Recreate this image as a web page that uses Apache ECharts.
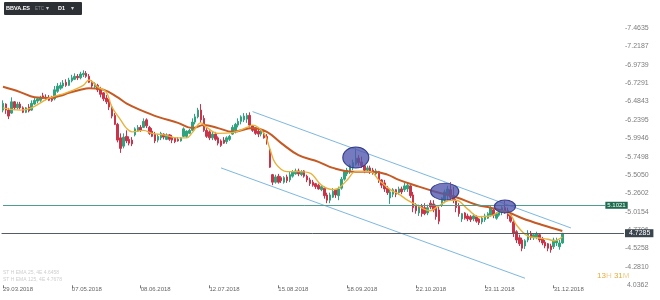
<!DOCTYPE html>
<html><head><meta charset="utf-8">
<script src="https://cdn.jsdelivr.net/npm/echarts@6/dist/echarts.min.js"></script>
<style>html,body{margin:0;padding:0;background:#fff}#c{width:660px;height:300px}</style>
</head><body><div id="c"></div>
<script>
// ---- data ----
const startDate = '29.03.2018';
const holidays = ['30.03.2018','02.04.2018','01.05.2018','25.12.2018','26.12.2018','01.01.2019'];
const categoryCount = 217;

const opens = [6.37,6.45,6.37,6.33,6.48,6.40,6.45,6.40,6.34,6.41,
6.37,6.45,6.49,6.50,6.56,6.54,6.53,6.52,6.52,6.62,
6.66,6.69,6.74,6.70,6.76,6.78,6.82,6.80,6.84,6.86,
6.82,6.74,6.68,6.70,6.65,6.60,6.53,6.49,6.41,6.30,
6.18,6.00,5.89,6.02,5.98,5.97,6.04,6.09,6.14,6.14,
6.24,6.14,6.09,6.05,5.97,6.00,6.05,5.98,6.04,6.01,
6.00,5.98,5.96,6.02,6.02,6.06,6.10,6.21,6.28,6.37,
6.26,6.10,6.08,6.00,6.05,6.00,5.96,5.97,5.95,5.98,
6.05,6.10,6.17,6.22,6.24,6.25,6.30,6.16,6.13,6.09,
6.05,6.06,6.02,5.84,5.51,5.41,5.49,5.47,5.41,5.48,
5.44,5.49,5.52,5.56,5.51,5.56,5.49,5.44,5.41,5.39,
5.37,5.31,5.33,5.24,5.17,5.21,5.31,5.23,5.33,5.45,
5.52,5.55,5.60,5.65,5.73,5.68,5.63,5.57,5.60,5.57,
5.52,5.55,5.44,5.40,5.33,5.20,5.25,5.31,5.27,5.32,
5.31,5.32,5.36,5.24,5.11,5.00,5.09,5.07,5.00,5.13,
5.12,5.08,5.04,5.11,5.17,5.24,5.31,5.23,5.16,5.09,
4.92,5.00,4.96,4.95,4.92,4.95,4.92,4.88,4.91,4.93,
4.97,5.04,4.93,4.97,5.01,5.07,5.03,4.97,4.88,4.75,
4.67,4.64,4.56,4.64,4.73,4.67,4.68,4.71,4.65,4.61,
4.59,4.56,4.55,4.60,4.55,4.60];

const closes = [6.46,6.37,6.29,6.48,6.40,6.45,6.40,6.34,6.40,6.36,
6.46,6.50,6.52,6.54,6.53,6.52,6.50,6.50,6.64,6.69,
6.70,6.73,6.70,6.77,6.80,6.82,6.80,6.85,6.86,6.82,
6.74,6.69,6.72,6.64,6.58,6.52,6.48,6.41,6.29,6.18,
5.97,5.86,6.01,5.96,5.93,5.92,6.12,6.14,6.10,6.22,
6.16,6.06,6.02,5.96,6.02,6.06,6.01,6.04,5.98,5.97,
5.95,5.96,6.00,6.12,6.09,6.10,6.21,6.28,6.37,6.24,
6.10,6.02,6.00,6.05,5.98,5.93,5.90,5.93,6.00,6.02,
6.14,6.18,6.22,6.28,6.29,6.30,6.17,6.10,6.06,6.05,
6.09,6.00,5.95,5.61,5.41,5.48,5.41,5.43,5.47,5.43,
5.51,5.55,5.56,5.52,5.55,5.49,5.44,5.39,5.37,5.35,
5.32,5.35,5.23,5.17,5.24,5.29,5.24,5.32,5.45,5.55,
5.57,5.63,5.67,5.73,5.67,5.63,5.57,5.60,5.55,5.53,
5.56,5.44,5.37,5.32,5.27,5.28,5.31,5.25,5.32,5.28,
5.36,5.37,5.23,5.07,5.03,5.08,4.99,4.99,5.07,5.08,
5.04,4.95,4.89,5.20,5.28,5.32,5.21,5.17,5.07,4.99,
4.99,4.93,4.92,4.91,4.96,4.89,4.87,4.93,4.96,4.99,
5.07,4.97,4.99,5.03,5.07,5.01,4.96,4.89,4.73,4.64,
4.59,4.53,4.63,4.73,4.67,4.71,4.72,4.64,4.60,4.56,
4.53,4.51,4.64,4.63,4.60,4.7285];

const lows = [6.34,6.32,6.25,6.32,6.37,6.38,6.38,6.33,6.33,6.34,
6.36,6.44,6.46,6.48,6.52,6.50,6.49,6.48,6.50,6.60,
6.64,6.66,6.68,6.69,6.74,6.77,6.77,6.78,6.81,6.80,
6.73,6.66,6.66,6.61,6.54,6.49,6.45,6.37,6.26,6.17,
5.94,5.80,5.86,5.93,5.90,5.89,6.02,6.08,6.08,6.13,
6.13,6.04,6.01,5.93,5.94,5.97,5.98,5.97,5.96,5.93,
5.93,5.95,5.95,6.01,6.00,6.05,6.09,6.18,6.26,6.20,
6.08,6.00,5.97,5.97,5.96,5.90,5.88,5.92,5.92,5.96,
6.04,6.06,6.14,6.18,6.21,6.20,6.14,6.08,6.04,6.01,
6.02,5.99,5.91,5.60,5.37,5.39,5.39,5.40,5.39,5.40,
5.41,5.47,5.51,5.49,5.49,5.47,5.41,5.36,5.35,5.32,
5.31,5.29,5.19,5.13,5.13,5.20,5.20,5.17,5.31,5.43,
5.49,5.52,5.57,5.63,5.63,5.60,5.53,5.55,5.52,5.51,
5.49,5.40,5.33,5.28,5.24,5.12,5.21,5.21,5.24,5.25,
5.28,5.28,5.20,5.01,4.99,4.96,4.95,4.97,4.97,5.05,
5.01,4.91,4.85,5.08,5.13,5.17,5.17,5.13,5.01,4.95,
4.88,4.91,4.89,4.88,4.89,4.87,4.84,4.85,4.88,4.92,
4.95,4.93,4.91,4.95,4.97,4.99,4.92,4.87,4.68,4.60,
4.56,4.49,4.52,4.61,4.64,4.64,4.65,4.61,4.57,4.53,
4.49,4.47,4.52,4.56,4.51,4.59];

const highs = [6.50,6.46,6.40,6.54,6.49,6.48,6.48,6.42,6.41,6.45,
6.50,6.53,6.54,6.56,6.60,6.58,6.57,6.56,6.69,6.73,
6.74,6.77,6.78,6.80,6.84,6.86,6.85,6.88,6.90,6.89,
6.85,6.77,6.74,6.72,6.68,6.61,6.57,6.52,6.44,6.33,
6.20,6.06,6.06,6.10,6.02,6.01,6.14,6.17,6.17,6.26,
6.26,6.16,6.13,6.08,6.05,6.08,6.06,6.06,6.05,6.04,
6.01,6.01,6.01,6.14,6.10,6.12,6.26,6.32,6.40,6.45,
6.30,6.13,6.10,6.08,6.08,6.02,5.98,6.01,6.02,6.04,
6.17,6.20,6.26,6.30,6.33,6.33,6.34,6.17,6.14,6.12,
6.10,6.09,6.05,5.85,5.52,5.51,5.52,5.49,5.49,5.51,
5.55,5.57,5.59,5.59,5.57,5.57,5.51,5.47,5.44,5.40,
5.39,5.37,5.35,5.27,5.27,5.33,5.32,5.35,5.48,5.57,
5.60,5.65,5.71,5.86,5.77,5.75,5.64,5.63,5.63,5.60,
5.59,5.56,5.45,5.44,5.36,5.32,5.33,5.32,5.35,5.35,
5.40,5.40,5.37,5.28,5.13,5.11,5.12,5.13,5.11,5.17,
5.17,5.11,5.08,5.21,5.31,5.36,5.41,5.35,5.19,5.13,
5.00,5.01,4.99,4.97,4.99,4.97,4.93,4.96,4.99,5.01,
5.09,5.07,5.01,5.05,5.09,5.16,5.07,5.00,4.91,4.77,
4.71,4.67,4.65,4.77,4.76,4.73,4.75,4.73,4.68,4.64,
4.60,4.59,4.67,4.67,4.64,4.73];

// slow moving average (brown) read at these bars
const slowIdx = [0,6,11,16,20,23,27,30,35,40,43,48,54,61,66,70,75,80,87,92,97,103,110,115,122,129,134,138,145,151,158,165,170,176,181,188,195];
const slowVal = [6.68,6.61,6.54,6.53,6.56,6.60,6.64,6.66,6.64,6.54,6.46,6.37,6.28,6.20,6.13,6.17,6.13,6.08,6.13,6.08,5.93,5.77,5.68,5.60,5.55,5.55,5.51,5.44,5.35,5.28,5.21,5.11,5.07,5.01,4.93,4.84,4.76];
// fast moving average (gold)
const fastIdx = [0,6,10,16,22,28,30,33,36,38,41,43,45,49,52,56,61,64,66,69,71,75,80,85,87,91,93,95,99,103,107,111,115,117,120,123,128,131,135,138,141,144,149,151,156,158,162,166,170,174,177,179,183,186,190,192,195];
const fastVal = [6.40,6.37,6.40,6.53,6.60,6.70,6.77,6.68,6.61,6.41,6.24,6.13,6.08,6.10,6.06,6.04,6.00,6.00,6.07,6.20,6.14,6.06,6.07,6.14,6.17,6.06,5.86,5.66,5.55,5.55,5.53,5.37,5.31,5.33,5.44,5.55,5.55,5.44,5.31,5.25,5.17,5.11,5.03,5.07,5.17,5.17,5.05,4.95,4.96,5.03,4.97,4.84,4.69,4.67,4.65,4.63,4.68];

// channel lines [bar index, price]
const channelUpper = [[87, 6.35], [198, 4.80]];
const channelLower = [[76, 5.60], [182, 4.13]];
// highlighted areas: [bar index, price]
const ellipses = [[123, 5.738], [154, 5.285], [175, 5.086]];
const ellipseSizes = [[26, 21], [28, 17], [21, 13]];
const levelLine = 5.1021;
const levelEndIdx = 210;
const lastPrice = 4.7285;

// y axis ticks
const yMin = 4.03618, yStep = 0.244808, yMax = 7.70;
const labelEvery = 24, lastLabelIdx = 192;

// ---- build categories (trading days) ----
function parseD(s){const p=s.split('.');return new Date(+p[2],+p[1]-1,+p[0]);}
function fmtD(d){const z=n=>(n<10?'0':'')+n;return z(d.getDate())+'.'+z(d.getMonth()+1)+'.'+d.getFullYear();}
const categories = [];
{
  const d = parseD(startDate);
  while (categories.length < categoryCount) {
    const wd = d.getDay(); const s = fmtD(d);
    if (wd !== 0 && wd !== 6 && holidays.indexOf(s) < 0) categories.push(s);
    d.setDate(d.getDate() + 1);
  }
}
const candles = opens.map((o, i) => [o, closes[i], lows[i], highs[i]]);
const showTick = i => i % labelEvery === 0 && i <= lastLabelIdx;

const FONT = 'Liberation Sans, Arial, sans-serif';
const chart = echarts.init(document.getElementById('c'), null, {renderer: 'canvas'});
chart.setOption({
  animation: false,
  backgroundColor: '#ffffff',
  grid: {left: 1.5, right: 36, top: 10.25, bottom: 14.7, containLabel: false},
  xAxis: {
    type: 'category', data: categories, boundaryGap: true,
    axisLine: {show: false},
    axisTick: {show: true, interval: showTick, alignWithLabel: true, length: 3, lineStyle: {color: '#777'}},
    axisLabel: {interval: showTick, align: 'left', fontSize: 6, color: '#666', margin: 1, fontFamily: FONT},
    splitLine: {show: false}
  },
  yAxis: {
    type: 'value', position: 'right', min: yMin, max: yMax, interval: yStep, scale: true,
    axisLine: {show: false}, axisTick: {show: false}, splitLine: {show: false},
    axisLabel: {showMaxLabel: false, showMinLabel: true, fontSize: 7, color: '#7d7d7d', margin: 1, fontFamily: FONT,
      formatter: v => (v < yMin + yStep / 2 ? ' ' : '-') + v.toFixed(4)}
  },
  series: [
    {
      type: 'candlestick', data: candles, barWidth: 2,
      itemStyle: {color: '#2fa37e', color0: '#c9344a', borderColor: '#2fa37e', borderColor0: '#c9344a', borderWidth: 1},
      markLine: {
        silent: true, symbol: ['none', 'none'], animation: false,
        label: {show: false},
        data: [
          [{coord: channelUpper[0], lineStyle: {color: '#7db8df', width: 1, type: 'solid'}}, {coord: channelUpper[1]}],
          [{coord: channelLower[0], lineStyle: {color: '#7db8df', width: 1, type: 'solid'}}, {coord: channelLower[1]}],
          [{coord: [-0.5, levelLine], lineStyle: {color: '#4e9e8b', width: 1, type: 'solid'},
            label: {show: true, position: 'end', distance: 0, formatter: levelLine.toFixed(4), color: '#fff', fontSize: 6,
              backgroundColor: '#1d6a4f', padding: [1, 2, 0, 2], lineHeight: 6, fontFamily: FONT}},
           {coord: [levelEndIdx, levelLine]}],
          {yAxis: lastPrice, lineStyle: {color: '#555c62', width: 1, type: 'solid'},
            label: {show: true, position: 'end', distance: 1, formatter: lastPrice.toFixed(4), color: '#fff', fontSize: 7,
              backgroundColor: '#3b454e', padding: [1, 3, 0, 4], lineHeight: 7, fontFamily: FONT}}
        ]
      },
      markPoint: {
        silent: true, animation: false, label: {show: false},
        itemStyle: {color: 'rgba(78,86,172,0.78)', borderColor: '#343b8c', borderWidth: 1},
        data: ellipses.map((c, k) => ({coord: c, symbol: 'circle', symbolSize: ellipseSizes[k]}))
      }
    },
    {
      type: 'line', data: slowIdx.map((i, k) => [i, slowVal[k]]), smooth: 0.4, showSymbol: false, symbol: 'none',
      lineStyle: {color: '#c55a24', width: 2}, z: 3
    },
    {
      type: 'line', data: fastIdx.map((i, k) => [i, fastVal[k]]), smooth: 0.4, showSymbol: false, symbol: 'none',
      lineStyle: {color: '#e8b23a', width: 1.4}, z: 4
    }
  ],
  graphic: [
    {type: 'rect', left: 4, top: 2, shape: {width: 78, height: 13, r: 1}, style: {fill: '#2d3135'}, z: 10},
    {type: 'text', left: 6, top: 5.5, style: {text: 'BBVA.ES', fill: '#ffffff', font: 'bold 5.5px ' + FONT}, z: 11},
    {type: 'text', left: 35, top: 6.5, style: {text: 'ETC', fill: '#8a8f94', font: '4.5px ' + FONT}, z: 11},
    {type: 'text', left: 46, top: 5.5, style: {text: '▾', fill: '#cfd2d5', font: '5.5px ' + FONT}, z: 11},
    {type: 'text', left: 58, top: 5.5, style: {text: 'D1', fill: '#ffffff', font: 'bold 5.5px ' + FONT}, z: 11},
    {type: 'text', left: 71, top: 5.5, style: {text: '▾', fill: '#cfd2d5', font: '5.5px ' + FONT}, z: 11},
    {type: 'text', left: 3, top: 270, style: {text: 'ST H EMA 25, 4E 4.6458', fill: '#cfcfcf', font: '5px ' + FONT}, z: 11},
    {type: 'text', left: 3, top: 277, style: {text: 'ST H EMA 125, 4E 4.7678', fill: '#cfcfcf', font: '5px ' + FONT}, z: 11},
    {type: 'text', left: 597, top: 272, style: {
      text: '{a|13}{b|H }{a|31}{b|M}',
      rich: {a: {fill: '#e3ad3a', font: '8px ' + FONT}, b: {fill: '#efd08e', font: '8px ' + FONT}}}, z: 11}
  ]
});
</script></body></html>
